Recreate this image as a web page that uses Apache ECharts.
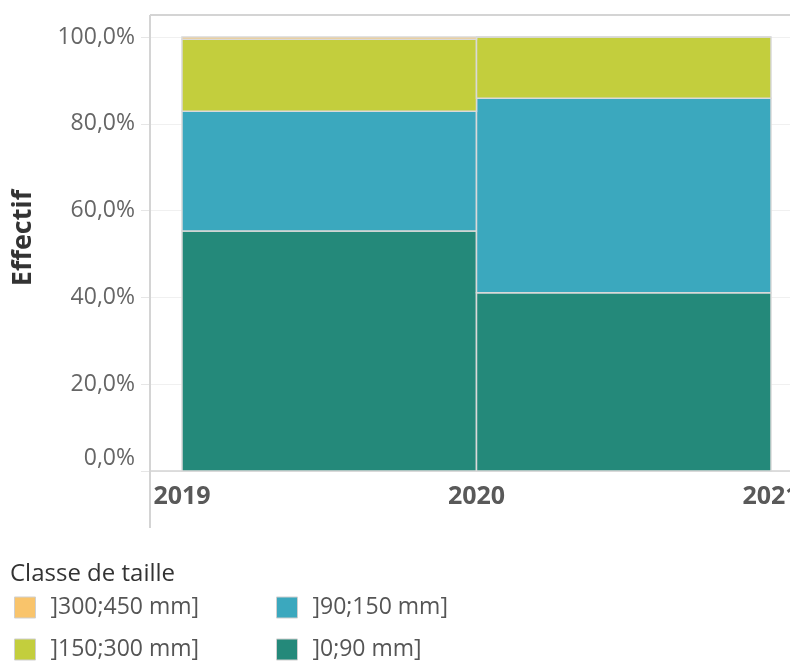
<!DOCTYPE html>
<html>
<head>
<meta charset="utf-8">
<script src="https://cdn.jsdelivr.net/npm/echarts@6/dist/echarts.min.js"></script>
<style>
html,body{margin:0;padding:0;background:#fff;}
#chart{width:790px;height:667px;}
</style>
</head>
<body>
<div id="chart"></div>
<script>
// ---- data ----
const years = [2019, 2020];           // start of each period (period ends next year)
const yearTicks = [2019, 2020, 2021];
const classes = [']0;90 mm]', ']90;150 mm]', ']150;300 mm]', ']300;450 mm]'];
const s0_90    = [55.3, 41.1];
const s90_150  = [27.6, 44.8];
const s150_300 = [16.6, 14.1];
const s300_450 = [0.5, 0.0];
const yTicks = [0, 20, 40, 60, 80, 100];
const colors = ['#24897A', '#3BA8BE', '#C3CE3D', '#F9C46B'];

const seriesValues = [s0_90, s90_150, s150_300, s300_450];

// build stacked rect data [x0, x1, base, top]
const cum = years.map(() => 0);
const series = seriesValues.map((vals, si) => {
  const data = vals.map((v, i) => {
    const base = cum[i];
    cum[i] += v;
    return [years[i], years[i] + 1, base, cum[i]];
  });
  return {
    type: 'custom',
    name: classes[si],
    itemStyle: { color: colors[si] },
    encode: { x: [0, 1], y: [2, 3] },
    renderItem: function (params, api) {
      const p0 = api.coord([api.value(0), api.value(3)]);
      const p1 = api.coord([api.value(1), api.value(2)]);
      return {
        type: 'rect',
        shape: { x: p0[0], y: p0[1], width: p1[0] - p0[0], height: p1[1] - p0[1] },
        style: { fill: colors[si], stroke: '#d9d9d9', lineWidth: 1.5 }
      };
    },
    data: data
  };
});

const chart = echarts.init(document.getElementById('chart'), null, { renderer: 'canvas' });
const font = 'Open Sans';
const legendCommon = {
  orient: 'vertical', top: 596, itemWidth: 21, itemHeight: 21, itemGap: 19, padding: 0,
  icon: 'rect', selectedMode: false,
  itemStyle: { borderColor: '#cfcfcf', borderWidth: 1 },
  textStyle: { fontFamily: font, fontSize: 23, color: '#555', padding: [0, 0, 0, 10] }
};
chart.setOption({
  animation: false,
  backgroundColor: '#ffffff',
  title: {
    text: 'Classe de taille', left: 5, top: 557,
    textStyle: { fontFamily: font, fontSize: 24, fontWeight: 'normal', color: '#333' }
  },
  grid: { left: 150, right: 0, top: 37, bottom: 196, outerBoundsMode: 'none', containLabel: false },
  xAxis: {
    type: 'value',
    min: 2019 - 32 / 294.5,
    max: 2019 + 608 / 294.5,
    axisLine: { show: true, lineStyle: { color: '#d4d4d4', width: 1.5 } },
    axisTick: { show: false },
    splitLine: { show: false },
    axisLabel: {
      customValues: yearTicks,
      formatter: v => String(v),
      fontFamily: font, fontSize: 25, fontWeight: 'bold', color: '#595959', margin: 13
    }
  },
  yAxis: {
    type: 'value', min: 0, max: 100, interval: 20,
    axisLine: { show: false },
    axisTick: { show: true, length: 9, lineStyle: { color: '#e6e6e6' } },
    splitLine: { show: true, lineStyle: { color: '#f0f0f0', width: 1 } },
    axisLabel: {
      customValues: yTicks,
      fontFamily: font, fontSize: 23, color: '#666', margin: 15,
      formatter: v => v === 0 ? '{z|0,0%}' : v.toFixed(1).replace('.', ',') + '%',
      rich: { z: { fontFamily: font, fontSize: 23, color: '#666', padding: [0, 0, 26, 0] } }
    }
  },
  legend: [
    Object.assign({}, legendCommon, { left: 14, data: [classes[3], classes[2]] }),
    Object.assign({}, legendCommon, { left: 276, data: [classes[1], classes[0]] })
  ],
  graphic: [
    { type: 'line', shape: { x1: 150, y1: 15, x2: 790, y2: 15 }, style: { stroke: '#d4d4d4', lineWidth: 2 }, z: 10 },
    { type: 'line', shape: { x1: 150, y1: 15, x2: 150, y2: 528 }, style: { stroke: '#d4d4d4', lineWidth: 2 }, z: 10 },
    {
      type: 'text', x: 23, y: 238, rotation: Math.PI / 2,
      style: { text: 'Effectif', fontFamily: font, fontSize: 27, fontWeight: 'bold', fill: '#333', align: 'center', verticalAlign: 'middle' }
    }
  ],
  series: series
});
</script>
</body>
</html>
